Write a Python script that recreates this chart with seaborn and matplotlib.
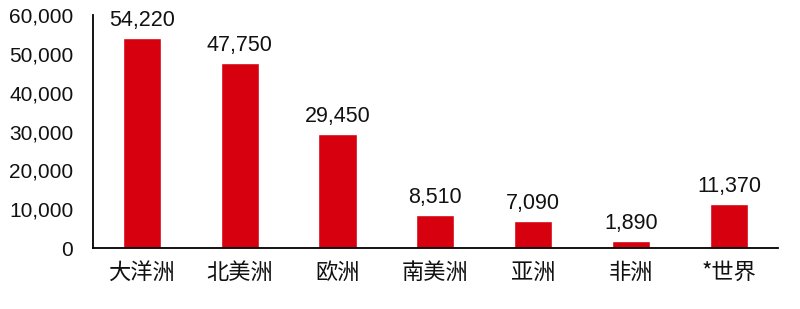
import matplotlib
matplotlib.use("Agg")
import matplotlib.pyplot as plt
import seaborn as sns
import pandas as pd
from matplotlib.ticker import FuncFormatter, FixedLocator

categories = ["大洋洲", "北美洲", "欧洲", "南美洲", "亚洲", "非洲", "*世界"]
values = [54220, 47750, 29450, 8510, 7090, 1890, 11370]

sns.set_style("white")
plt.rcParams['font.family'] = ['Liberation Sans', 'Noto Sans CJK SC', 'DejaVu Sans']

df = pd.DataFrame({"cat": categories, "val": values})

fig = plt.figure(figsize=(8, 3.09), dpi=100)
ax = fig.add_axes([0.116, 0.197, 0.8565, 0.754])
sns.barplot(data=df, x="cat", y="val", color="#D7000F", saturation=1, width=0.39, ax=ax)

ax.set_xlim(-0.5, len(categories) - 0.5)
ax.set_ylim(0, 60000)
ax.set_yticks(range(0, 60001, 10000))
ax.yaxis.set_major_formatter(FuncFormatter(lambda v, p: f"{int(v):,}"))
ax.set_xlabel("")
ax.set_ylabel("")

for spine in ["top", "right"]:
    ax.spines[spine].set_visible(False)
for spine in ["left", "bottom"]:
    ax.spines[spine].set_color("black")
    ax.spines[spine].set_linewidth(1.3)

ax.tick_params(axis="y", direction="in", length=5, width=1.3, color="black",
               labelsize=15, pad=14, labelcolor="#111111")
ax.tick_params(axis="x", which="major", length=0, labelsize=16, pad=9, labelcolor="#111111")
ax.xaxis.set_minor_locator(FixedLocator([i - 0.5 for i in range(len(categories) + 1)]))
ax.tick_params(axis="x", which="minor", direction="out", length=5, width=1.3, color="black")
for lbl in ax.get_xticklabels():
    lbl.set_family(['Noto Sans CJK SC', 'Liberation Sans'])

for i, v in enumerate(values):
    ax.annotate(f"{v:,}", (i, v), xytext=(0, 5), textcoords="offset points",
                ha="center", va="bottom", fontsize=15.5, color="#111111")

fig.savefig("out.png", dpi=100)
